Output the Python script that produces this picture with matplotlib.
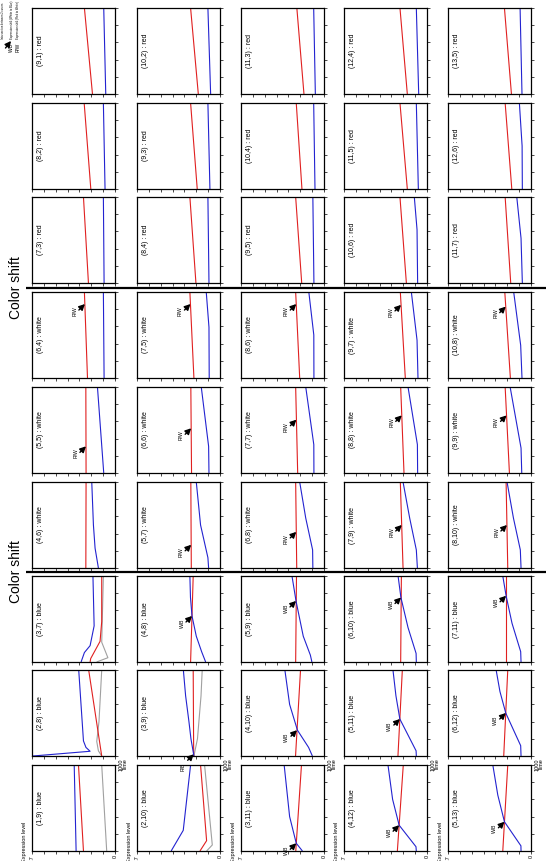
import matplotlib
matplotlib.use('Agg')
import matplotlib.pyplot as plt

plt.rcParams['font.family'] = ['Liberation Sans', 'DejaVu Sans']

# ---------------- data ----------------
LABELS = [
    "(9,1) : red", "(10,2) : red", "(11,3) : red", "(12,4) : red", "(13,5) : red",
    "(8,2) : red", "(9,3) : red", "(10,4) : red", "(11,5) : red", "(12,6) : red",
    "(7,3) : red", "(8,4) : red", "(9,5) : red", "(10,6) : red", "(11,7) : red",
    "(6,4) : white", "(7,5) : white", "(8,6) : white", "(9,7) : white", "(10,8) : white",
    "(5,5) : white", "(6,6) : white", "(7,7) : white", "(8,8) : white", "(9,9) : white",
    "(4,6) : white", "(5,7) : white", "(6,8) : white", "(7,9) : white", "(8,10) : white",
    "(3,7) : blue", "(4,8) : blue", "(5,9) : blue", "(6,10) : blue", "(7,11) : blue",
    "(2,8) : blue", "(3,9) : blue", "(4,10) : blue", "(5,11) : blue", "(6,12) : blue",
    "(1,9) : blue", "(2,10) : blue", "(3,11) : blue", "(4,12) : blue", "(5,13) : blue",
]

# each curve: list of [time, expression level]
RED = [
    [[0, .190], [1000, .258]], [[0, .183], [1000, .248]], [[0, .169], [1000, .229]], [[0, .166], [1000, .228]], [[0, .165], [1000, .224]],
    [[0, .204], [1000, .260]], [[0, .192], [1000, .248]], [[0, .186], [1000, .234]], [[0, .166], [1000, .228]], [[0, .162], [1000, .218]],
    [[0, .224], [1000, .266]], [[0, .203], [1000, .254]], [[0, .188], [1000, .239]], [[0, .174], [1000, .228]], [[0, .171], [1000, .218]],
    [[0, .232], [1000, .258]], [[0, .220], [1000, .254]], [[0, .205], [1000, .239]], [[0, .183], [1000, .225]], [[0, .174], [1000, .221]],
    [[0, .244], [1000, .246]], [[0, .240], [1000, .246]], [[0, .222], [1000, .239]], [[0, .194], [1000, .222]], [[0, .182], [1000, .218]],
    [[0, .246], [1000, .244]], [[0, .242], [1000, .246]], [[0, .230], [1000, .239]], [[0, .202], [1000, .225]], [[0, .196], [1000, .210]],
    [[0, .210], [40, .205], [240, .126], [470, .112], [1000, .112]], [[0, .248], [1000, .226]], [[0, .239], [1000, .232]], [[0, .222], [1000, .216]], [[0, .210], [1000, .210]],
    [[0, .112], [1000, .222]], [[0, .222], [1000, .226]], [[0, .240], [1000, .198]], [[0, .245], [1000, .208]], [[0, .230], [1000, .196]],
    [[0, .266], [1000, .308]], [[0, .169], [120, .113], [1000, .164]], [[0, .238], [1000, .190]], [[0, .250], [1000, .200]], [[0, .238], [1000, .196]],
]

BLUE = [
    [[0, .078], [1000, .095]], [[0, .079], [1000, .102]], [[0, .073], [1000, .087]], [[0, .070], [1000, .090]], [[0, .076], [1000, .092]],
    [[0, .084], [1000, .098]], [[0, .085], [1000, .102]], [[0, .076], [1000, .087]], [[0, .073], [1000, .090]], [[0, .073], [500, .075], [1000, .098]],
    [[0, .092], [1000, .098]], [[0, .093], [1000, .102]], [[0, .085], [1000, .094]], [[0, .079], [620, .084], [1000, .107]], [[0, .073], [520, .084], [1000, .120]],
    [[0, .092], [1000, .098]], [[0, .091], [590, .093], [1000, .116]], [[0, .085], [500, .086], [1000, .128]], [[0, .076], [440, .084], [1000, .132]], [[0, .076], [380, .087], [1000, .146]],
    [[0, .095], [170, .104], [1000, .148]], [[0, .093], [310, .096], [1000, .158]], [[0, .085], [330, .086], [1000, .154]], [[0, .079], [330, .081], [1000, .160]], [[0, .078], [290, .084], [1000, .176]],
    [[0, .140], [230, .168], [500, .182], [1000, .196]], [[0, .096], [120, .102], [500, .164], [1000, .200]], [[0, .094], [210, .096], [580, .154], [1000, .205]], [[0, .081], [210, .090], [580, .146], [1000, .202]], [[0, .084], [210, .090], [580, .148], [1000, .202]],
    [[0, .286], [110, .258], [190, .210], [420, .176], [1000, .186]], [[0, .121], [120, .155], [300, .200], [535, .236], [750, .249], [1000, .254]],
    [[0, .102], [80, .115], [300, .175], [710, .236], [1000, .270]], [[0, .090], [100, .092], [400, .160], [750, .220], [1000, .244]], [[0, .084], [120, .087], [450, .160], [770, .210], [1000, .238]],
    [[0, .692], [55, .210], [100, .245], [175, .266], [1000, .306]], [[0, .220], [200, .245], [400, .262], [700, .290], [1000, .309]],
    [[0, .098], [100, .130], [300, .224], [600, .290], [1000, .330]], [[0, .090], [60, .092], [430, .229], [700, .262], [1000, .287]], [[0, .084], [120, .087], [500, .213], [750, .262], [1000, .294]],
    [[0, .328], [1000, .344]], [[0, .412], [240, .310], [1000, .248]], [[0, .182], [90, .234], [400, .290], [1000, .336]], [[0, .090], [50, .093], [300, .235], [600, .290], [1000, .329]], [[0, .084], [60, .085], [340, .224], [650, .280], [1000, .322]],
]

GRAY = {
    30: [[0, .155], [50, .060], [230, .112], [1000, .098]],
    35: [[0, .112], [60, .140], [170, .154], [400, .135], [1000, .112]],
    36: [[0, .220], [200, .190], [400, .178], [700, .160], [1000, .150]],
    40: [[0, .070], [1000, .112]],
    41: [[0, .113], [70, .065], [1000, .130]],
}

# intersection / shift markers: panel index -> (label, time, level)
MARKS = {
    15: ("R/W", 860, .254), 16: ("R/W", 860, .249), 17: ("R/W", 860, .234), 18: ("R/W", 850, .219), 19: ("R/W", 830, .213),
    20: ("R/W", 310, .245), 21: ("R/W", 520, .243), 22: ("R/W", 620, .233), 23: ("R/W", 670, .213), 24: ("R/W", 670, .206),
    26: ("R/W", 270, .243), 27: ("R/W", 420, .234), 28: ("R/W", 500, .213), 29: ("R/W", 500, .203),
    31: ("W/B", 535, .236), 32: ("W/B", 710, .236), 33: ("W/B", 750, .219), 34: ("W/B", 770, .210),
    36: ("R/B", 20, .222), 37: ("W/B", 300, .228), 38: ("W/B", 430, .229), 39: ("W/B", 500, .213),
    42: ("W/B", 90, .234), 43: ("W/B", 300, .235), 44: ("W/B", 340, .224),
}

EXPR_TICKS = [0, .1, .2, .3, .4, .5, .6, .7]
EXPR_TICKLABELS = ["0", "", "", "", "", "", "", "0.7"]
TIME_TICKS = [0, 200, 400, 600, 800, 1000]
TIME_TICKLABELS = ["", "", "", "", "", "1000"]

LEGEND = [("", "Intersection between 2 curves"),
          ("W/B", "Expression shift (White to Blue)"),
          ("R/W", "Expression shift (Red to White)")]
SECTION_TITLE = "Color shift"

# ---------------- layout ----------------
W, H = 546, 861
COL_X = [32, 137, 241, 344, 448]
ROW_Y = [8, 103, 197, 292, 387, 482, 576, 670, 765]
PW, PH = 83, 86
RED_C, BLUE_C, GRAY_C = '#e02020', '#2323d0', '#a0a0a0'

fig = plt.figure(figsize=(W / 100, H / 100), dpi=100)

PX = 0.72  # points per pixel

for i, lab in enumerate(LABELS):
    r, c = divmod(i, 5)
    x0, y0 = COL_X[c], ROW_Y[r]
    ax = fig.add_axes([x0 / W, 1 - (y0 + PH) / H, PW / W, PH / H])
    ax.set_facecolor('none')
    ax.set_xlim(0.7, 0)
    ax.set_ylim(0, 1000)
    curves = []
    if i in GRAY:
        curves.append((GRAY[i], GRAY_C))
    curves.append((RED[i], RED_C))
    curves.append((BLUE[i], BLUE_C))
    for pts, col in curves:
        t = [p[0] for p in pts]
        v = [p[1] for p in pts]
        ax.plot(v, t, color=col, lw=0.8, solid_capstyle='butt')
    ax.set_xticks(EXPR_TICKS)
    ax.set_yticks(TIME_TICKS)
    ax.yaxis.tick_right()
    ax.tick_params(direction='out', length=1.8, width=0.5, labelsize=4, pad=1)
    for s in ax.spines.values():
        s.set_linewidth(0.9)
    if r == 8:
        ax.set_xticklabels(EXPR_TICKLABELS, rotation=90)
        ax.set_yticklabels(TIME_TICKLABELS, rotation=90, va='center')
        ax.text(1.12, 1.01, "Time", rotation=90, fontsize=4, ha='center', va='center',
                transform=ax.transAxes)
        ax.text(-0.085, 0.105, "Expression level", rotation=90, fontsize=4,
                ha='center', va='center', transform=ax.transAxes, clip_on=False)
    else:
        ax.set_xticklabels([])
        ax.set_yticklabels([])
    ax.text(0.1, 0.5, lab, rotation=90, fontsize=5, ha='center', va='center',
            transform=ax.transAxes)
    if i in MARKS:
        name, tt, vv = MARKS[i]
        if name == "R/B":
            tdx, tdy = -11, 13
        else:
            tdx, tdy = -10, 7
        ax.annotate('', xy=(vv, tt), xytext=(-6 * PX, -6 * PX), textcoords='offset points',
                    arrowprops=dict(arrowstyle='-|>,head_length=0.35,head_width=0.18',
                                    color='k', lw=1.0, shrinkA=0, shrinkB=0),
                    annotation_clip=False, zorder=10)
        ax.annotate(name, xy=(vv, tt), xytext=(tdx * PX, -tdy * PX), textcoords='offset points',
                    rotation=90, fontsize=3.6, ha='center', va='center', annotation_clip=False,
                    zorder=10)

# overlay in pixel coordinates for decorations
ov = fig.add_axes([0, 0, 1, 1])
ov.set_xlim(0, W)
ov.set_ylim(H, 0)
ov.axis('off')
ov.patch.set_alpha(0)

for ysep in (288, 572):
    ov.plot([26, W], [ysep, ysep], color='k', lw=1.6, solid_capstyle='butt')
    ov.text(16, ysep, SECTION_TITLE, rotation=90, fontsize=10, ha='center', va='center')

# legend
leg_x = [3.0, 11.7, 18.5]
for (key, txt), lx in zip(LEGEND, leg_x):
    ov.text(lx, 39, txt, rotation=90, fontsize=2.0, ha='center', va='bottom')
    if key:
        ov.text(lx, 47, key, rotation=90, fontsize=3.4, ha='center', va='center')
ov.annotate('', xy=(11.0, 41), xytext=(5.5, 48),
            arrowprops=dict(arrowstyle='-|>,head_length=0.35,head_width=0.18',
                            color='k', lw=1.0, shrinkA=0, shrinkB=0))

fig.savefig('out.png', dpi=100)
